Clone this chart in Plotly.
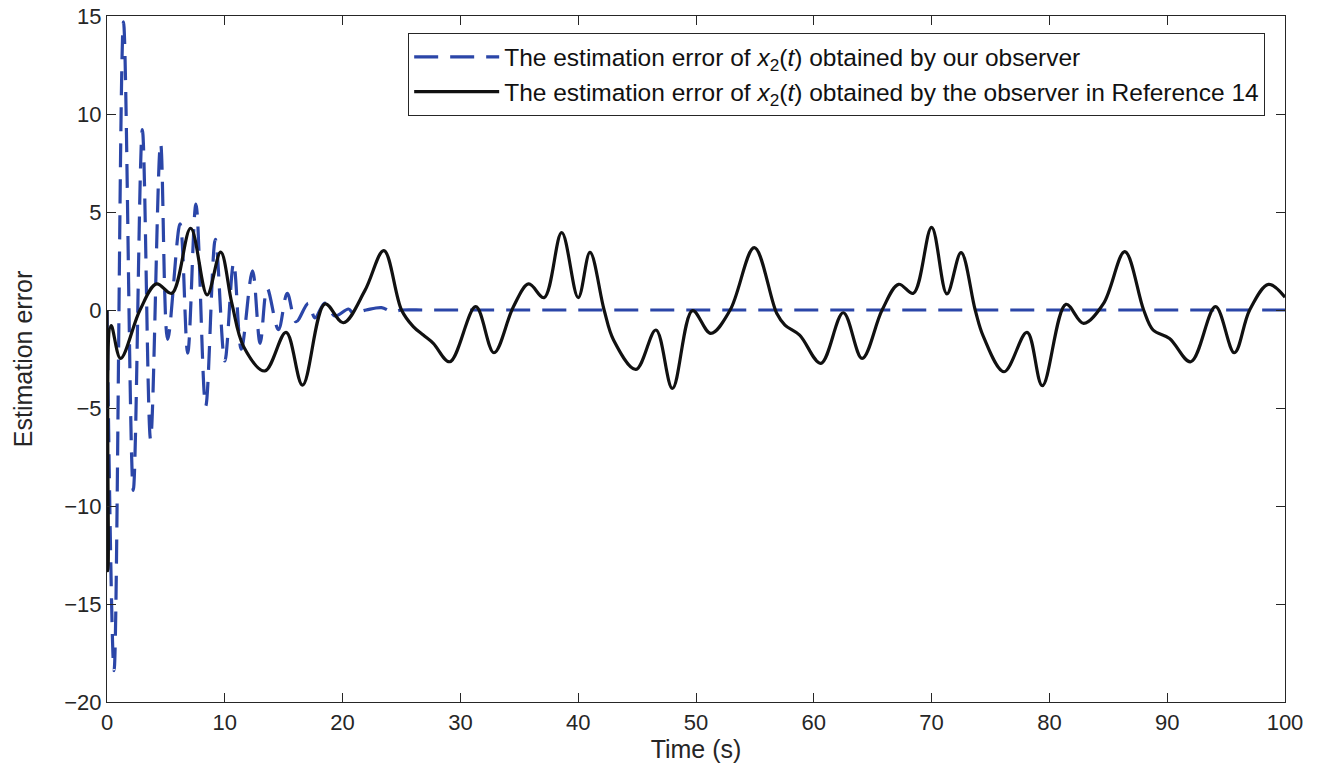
import plotly.graph_objects as go

# Black curve: estimation error by observer in Reference 14
t_ref = [0, 0.05, 0.1, 0.35, 1.15, 2.8, 4.2, 5.5, 7.1, 8.5, 9.65, 10.6, 11.6, 13.4, 15.2, 16.6,
         18.5, 20.06, 21.9, 23.5, 25.0, 26.0, 26.85, 27.7, 29.1, 31.3, 32.85, 34.5, 35.8, 37.1,
         38.6, 40.0, 41.0, 42.2, 43.0, 44.9, 46.6, 48.0, 49.7, 51.25, 52.9, 54.95, 56.85, 57.55,
         58.8, 60.6, 62.5, 64.1, 65.8, 67.2, 68.45, 70.0, 71.3, 72.5, 73.7, 74.4, 76.15, 78.1,
         79.4, 81.4, 82.9, 84.6, 86.4, 88.0, 88.8, 90.2, 92.0, 94.1, 95.7, 97.0, 98.6, 100]
e_ref = [0, -13.3, -13.0, -0.8, -2.47, 0.0, 1.33, 0.85, 4.17, 0.77, 2.95, 0.34, -1.87, -3.11,
         -1.14, -3.83, 0.31, -0.65, 1.0, 3.03, 0.0, -0.85, -1.28, -1.7, -2.64, 0.17, -2.18, 0.17,
         1.33, 0.63, 3.95, 0.63, 2.94, 0.0, -1.53, -3.03, -1.02, -4.0, -0.03, -1.19, 0.0, 3.18,
         -0.17, -0.77, -1.28, -2.72, -0.14, -2.47, 0.0, 1.31, 0.85, 4.22, 0.82, 2.93, 0.0, -1.36,
         -3.15, -1.14, -3.86, 0.29, -0.68, 0.34, 2.98, 0.0, -1.02, -1.45, -2.64, 0.17, -2.18, 0.0,
         1.31, 0.65]

# Blue dashed curve: estimation error by our observer
t_our = [0, 0.6, 1.4, 2.23, 3.0, 3.7, 4.55, 5.15, 6.2, 6.85, 7.55, 8.38, 9.2, 10.0, 10.75, 11.4,
         12.35, 13.0, 13.6, 14.55, 15.3, 16.05, 17.1, 17.65, 18.5, 19.35, 20.5, 20.9, 22.0, 23.3,
         24.2, 25.0, 27.0, 30, 40, 50, 60, 70, 80, 90, 100]
e_our = [0, -18.4, 14.7, -9.2, 9.2, -6.6, 8.5, -1.5, 4.4, -2.2, 5.4, -4.9, 3.6, -2.6, 2.4, -2.0,
         2.0, -1.7, 1.1, -1.0, 0.85, -0.6, 0.35, -0.4, 0.35, -0.3, 0.05, -0.15, 0.0, 0.12,
         -0.09, 0.0, 0.0, 0.0, 0.0, 0.0, 0.0, 0.0, 0.0, 0.0, 0.0]

x_ticks = [0, 10, 20, 30, 40, 50, 60, 70, 80, 90, 100]
y_ticks = [-20, -15, -10, -5, 0, 5, 10, 15]

FONT = "Liberation Sans"
AX = "#262626"

fig = go.Figure()
fig.add_trace(go.Scatter(
    x=t_our, y=e_our, mode="lines", line_shape="spline",
    line=dict(color="#2B46A8", width=3.2, dash="24px,12px", smoothing=1.0),
    name="The estimation error of <i>x</i><sub>2</sub>(<i>t</i>) obtained by our observer"))
fig.add_trace(go.Scatter(
    x=t_ref, y=e_ref, mode="lines", line_shape="spline",
    line=dict(color="#111111", width=3.2, smoothing=1.0),
    name="The estimation error of <i>x</i><sub>2</sub>(<i>t</i>) obtained by the observer in Reference 14"))

axis_common = dict(showline=True, linecolor=AX, linewidth=1.2, mirror="ticks",
                   ticks="inside", ticklen=9, tickcolor=AX, showgrid=False, zeroline=False,
                   automargin=False,
                   tickfont=dict(family=FONT, size=22, color=AX))
fig.update_xaxes(range=[0, 100], tickvals=x_ticks,
                 title=dict(text="Time (s)", font=dict(family=FONT, size=25, color=AX), standoff=2),
                 **axis_common)
fig.update_yaxes(range=[-20, 15], tickvals=y_ticks,
                 title=dict(text="Estimation error", font=dict(family=FONT, size=25, color=AX), standoff=24),
                 **axis_common)

fig.update_layout(
    width=1326, height=771, plot_bgcolor="white", paper_bgcolor="white",
    margin=dict(l=107, r=41, t=16, b=69),
    legend=dict(x=0.983, y=0.975, xanchor="right", yanchor="top",
                bgcolor="white", bordercolor=AX, borderwidth=1.2,
                font=dict(family=FONT, size=24.5, color="#111111"),
                tracegroupgap=0, itemwidth=85),
    showlegend=True,
)

# remove the default page margin so the figure sits at the window's top-left corner
fig.write_html("out.html",
               config={"displayModeBar": False},
               post_script="document.body.style.margin='0';")
